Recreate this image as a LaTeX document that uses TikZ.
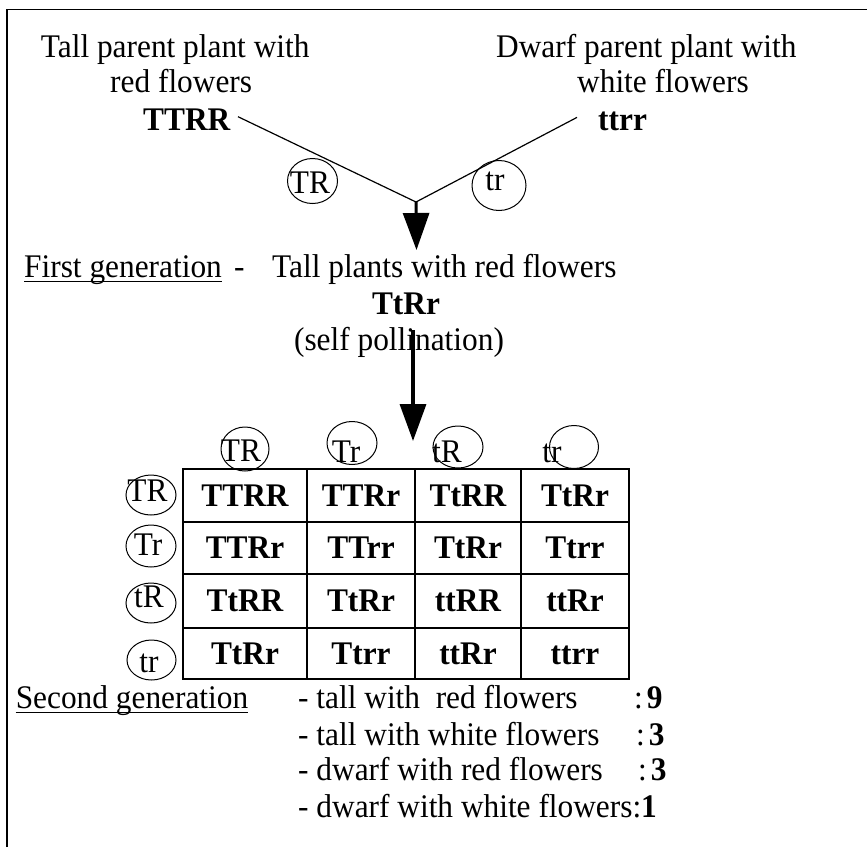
\documentclass[tikz,border=0pt]{standalone}
\usepackage{fontspec}
\setmainfont[FakeStretch=0.95]{Liberation Serif}
\usetikzlibrary{shapes.geometric,arrows.meta}
\begin{document}
\begin{tikzpicture}[x=1pt,y=-1pt,
  every node/.style={font=\fontsize{33}{36.5}\selectfont, inner sep=0pt},
  txt/.style={anchor=base west},
  txtc/.style={anchor=base},
  bold/.style={font=\fontsize{33}{36.5}\selectfont\bfseries},
  gam/.style={ellipse, draw, line width=1pt, inner sep=0pt},
  cell/.style={draw, line width=2pt, font=\fontsize{33}{36.5}\selectfont\bfseries,
    text height=21.5pt, text depth=0pt, inner sep=0pt},
  cross/.style={line width=1.2pt},
  uline/.style={line width=1.5pt},
  bigarrow/.style={line width=3pt, -{Triangle[length=37pt,width=26pt]}},
]
\useasboundingbox (0,0) rectangle (867,847);
% frame (open at right and bottom)
\draw[line width=1.5pt] (7,847) -- (7,9.5) -- (867,9.5);

% parents
\node[txt] (p1a) at (40.7,57) {Tall parent plant with};
\node[txt] (p1b) at (110,92.7) {red flowers};
\node[txt,bold] (TTRR) at (143,130) {TTRR};
\node[txt] (p2a) at (496,57) {Dwarf parent plant with};
\node[txt] (p2b) at (577,92.7) {white flowers};
\node[txt,bold] (ttrr) at (598,130) {ttrr};

\coordinate (v) at (416,202);
\coordinate (t1) at (416.5,250);
\draw[cross] ([xshift=7.5pt,yshift=2.5pt]TTRR.east) -- (v);
\draw[cross] ([xshift=-21pt,yshift=3.5pt]ttrr.west) -- (v);
\draw[bigarrow] (v) -- (t1);

% gametes of parents
\node[gam, minimum width=50pt, minimum height=45pt] (gTR) at (312.5,181) {};
\node[txtc] (gTRt) at (310,193) {TR};
\node[gam, minimum width=54pt, minimum height=50pt] (gtr) at (499,185.5) {};
\node[txtc] (gtrt) at (495,190.7) {tr};

% first generation
\node[txt] (fg) at (24,277) {First generation};
\draw[uline] ([yshift=-4.5pt]fg.base west) -- ([yshift=-4.5pt]fg.base east);
\node[txt] (fgd) at (234,277) {-};
\node[txt] (fgt) at (272,277) {Tall plants with red flowers};
\node[txtc,bold] (TtRr) at (406,314) {TtRr};
\node[txtc] (self) at (399,350) {(self pollination)};

\coordinate (s2) at (413,330);
\coordinate (t2) at (413,441);
\draw[bigarrow, line width=3.5pt] (s2) -- (t2);

% column gametes
\node[gam, minimum width=48pt, minimum height=44pt] (h1) at (245,449) {};
\node[txtc] (h1t) at (241,461) {TR};
\node[gam, minimum width=50pt, minimum height=43pt] (h2) at (352,443) {};
\node[txtc] (h2t) at (346,462) {Tr};
\node[gam, minimum width=50pt, minimum height=42pt] (h3) at (458,447) {};
\node[txtc] (h3t) at (447,462) {tR};
\node[gam, minimum width=49pt, minimum height=43pt] (h4) at (574,447) {};
\node[txtc] (h4t) at (552,462) {tr};

% row gametes
\node[gam, minimum width=50pt, minimum height=40pt] (r1) at (151,495) {};
\node[txtc] (r1t) at (147.5,501) {TR};
\node[gam, minimum width=50pt, minimum height=42pt] (r2) at (151,546) {};
\node[txtc] (r2t) at (148,555) {Tr};
\node[gam, minimum width=50pt, minimum height=40pt] (r3) at (151,603) {};
\node[txtc] (r3t) at (149,607) {tR};
\node[gam, minimum width=49pt, minimum height=40pt] (r4) at (151.5,660) {};
\node[txtc] (r4t) at (149,672) {tr};

% Punnett square
\node[cell, minimum width=124pt, minimum height=53pt] (c11) at (245,495.5) {TTRR};
\node[cell, minimum width=108pt, minimum height=53pt] (c12) at (361,495.5) {TTRr};
\node[cell, minimum width=106pt, minimum height=53pt] (c13) at (468,495.5) {TtRR};
\node[cell, minimum width=108pt, minimum height=53pt] (c14) at (575,495.5) {TtRr};
\node[cell, minimum width=124pt, minimum height=52pt] (c21) at (245,548) {TTRr};
\node[cell, minimum width=108pt, minimum height=52pt] (c22) at (361,548) {TTrr};
\node[cell, minimum width=106pt, minimum height=52pt] (c23) at (468,548) {TtRr};
\node[cell, minimum width=108pt, minimum height=52pt] (c24) at (575,548) {Ttrr};
\node[cell, minimum width=124pt, minimum height=54pt] (c31) at (245,601) {TtRR};
\node[cell, minimum width=108pt, minimum height=54pt] (c32) at (361,601) {TtRr};
\node[cell, minimum width=106pt, minimum height=54pt] (c33) at (468,601) {ttRR};
\node[cell, minimum width=108pt, minimum height=54pt] (c34) at (575,601) {ttRr};
\node[cell, minimum width=124pt, minimum height=51pt] (c41) at (245,653.5) {TtRr};
\node[cell, minimum width=108pt, minimum height=51pt] (c42) at (361,653.5) {Ttrr};
\node[cell, minimum width=106pt, minimum height=51pt] (c43) at (468,653.5) {ttRr};
\node[cell, minimum width=108pt, minimum height=51pt] (c44) at (575,653.5) {ttrr};

% second generation
\node[txt] (sg) at (15.6,708) {Second generation};
\draw[uline] ([yshift=-4.5pt]sg.base west) -- ([yshift=-4.5pt]sg.base east);
\node[txt] (l1) at (298,708) {- tall with\ \ red flowers};
\node[txt] (n1) at (634,708) {:\hspace{4pt}\textbf{9}};
\node[txt] (l2) at (298,745) {- tall with white flowers};
\node[txt] (n2) at (636,745) {:\hspace{4pt}\textbf{3}};
\node[txt] (l3) at (298,780.5) {- dwarf with red flowers};
\node[txt] (n3) at (638,780.5) {:\hspace{4pt}\textbf{3}};
\node[txt] (l4) at (298,817) {- dwarf with white flowers:\textbf{1}};
\end{tikzpicture}
\end{document}
